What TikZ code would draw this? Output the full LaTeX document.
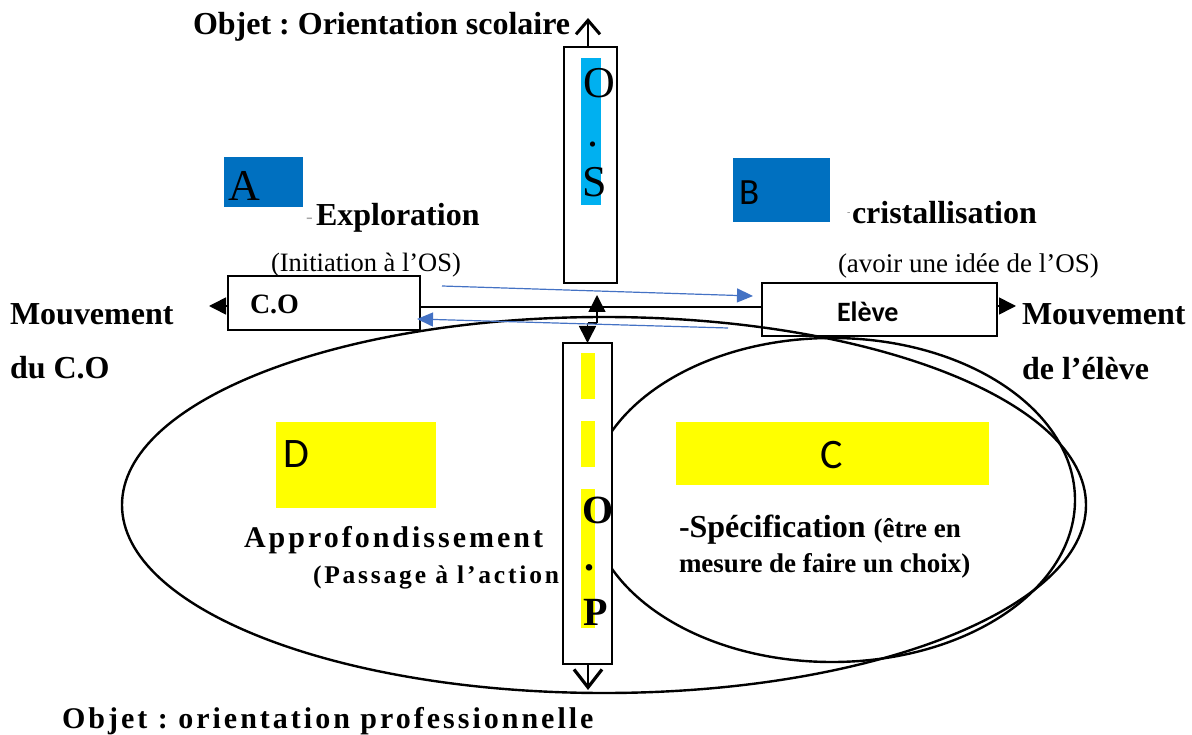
\documentclass[tikz,border=0pt]{standalone}
\usepackage{fontspec}
\setmainfont{Liberation Serif}
\newfontfamily\calibri{Carlito}
\newfontfamily\spacedserif[LetterSpace=10]{Liberation Serif}
\newfontfamily\spacedserifw[LetterSpace=11]{Liberation Serif}
\usetikzlibrary{arrows.meta,shapes.geometric}
\definecolor{darkblue}{HTML}{0070C0}
\definecolor{cyanblue}{HTML}{00B0F0}
\definecolor{arrowblue}{HTML}{4472C4}
\definecolor{yel}{HTML}{FFFF00}
\frenchspacing
\tikzset{
  fillbox/.style={inner sep=0pt, outer sep=0pt, draw=none},
  linebox/.style={inner sep=0pt, outer sep=0pt, draw=black, line width=1.7pt},
  ell/.style={ellipse, inner sep=0pt, outer sep=0pt, draw=black, line width=2.4pt},
  txt/.style={inner sep=0pt, outer sep=0pt, anchor=base west},
  ctxt/.style={inner sep=0pt, outer sep=0pt, anchor=base},
  bigb/.style={font=\bfseries\fontsize{32}{38}\selectfont},
  midb/.style={font=\bfseries\fontsize{27}{32}\selectfont},
  blk/.style={line width=1.6pt, -{Triangle[length=17pt,width=17pt]}},
  barbtop/.style={line width=2.6pt, -{Straight Barb[length=14pt,width=24pt,line width=3pt]}},
  barbbot/.style={line width=2.6pt, -{Straight Barb[length=18pt,width=28pt,line width=3.2pt]}},
  blu/.style={draw=arrowblue, line width=1.2pt, -{Triangle[length=16pt,width=14pt]}},
}
\begin{document}
\begin{tikzpicture}[x=1pt,y=-1pt]
\useasboundingbox (0,0) rectangle (1192,735);

% coloured label boxes
\node[fillbox, fill=darkblue, minimum width=79pt, minimum height=50pt] (boxA) at (263.5,182) {};
\node[fillbox, fill=darkblue, minimum width=97pt, minimum height=64pt] (boxB) at (781.5,190) {};
\node[fillbox, fill=yel, minimum width=160pt, minimum height=86pt] (boxD) at (356,465) {};
\node[fillbox, fill=yel, minimum width=313pt, minimum height=63pt] (boxC) at (832.5,453.5) {};

% ellipses
\node[ell, minimum width=964pt, minimum height=376pt] (bigell) at (604,505) {};
\node[ell, minimum width=486pt, minimum height=324pt] (smallell) at (832,500) {};

% vertical boxes
\node[linebox, fill=white, minimum width=53pt, minimum height=236pt] (os) at (590.5,165) {};
\node[fillbox, fill=cyanblue, minimum width=20pt, minimum height=147pt] (osstripe) at (591,131.5) {};
\node[linebox, fill=white, minimum width=49pt, minimum height=321pt] (op) at (587.5,503.5) {};
\node[fillbox, fill=yel, minimum width=14pt, minimum height=46pt] (ops1) at (588,376) {};
\node[fillbox, fill=yel, minimum width=14pt, minimum height=46pt] (ops2) at (588,444) {};
\node[fillbox, fill=yel, minimum width=14pt, minimum height=139pt] (ops3) at (588,558.5) {};

% horizontal boxes
\node[linebox, minimum width=192pt, minimum height=54pt] (co) at (324,303) {};
\node[linebox, minimum width=235pt, minimum height=53pt] (eleve) at (879.5,309.5) {};

% letters in vertical boxes
\node[ctxt, font=\fontsize{44}{50}\selectfont] (osO) at (599,98) {O};
\node[ctxt, font=\fontsize{44}{50}\selectfont] (osdot) at (593,147) {.};
\node[ctxt, font=\fontsize{44}{50}\selectfont] (osS) at (595,197) {S};
\node[ctxt, font=\bfseries\fontsize{40}{46}\selectfont] (opO) at (598,523) {O};
\node[ctxt, font=\bfseries\fontsize{40}{46}\selectfont] (opdot) at (589,570) {.};
\node[ctxt, font=\bfseries\fontsize{40}{46}\selectfont] (opP) at (596,625) {P};

% connectors
\coordinate (hl) at (0,307);
\draw[line width=1.5pt] (co.east |- hl) -- (eleve.west |- hl);
\coordinate (coleft) at (209,306);
\coordinate (elright) at (1016,306);
\draw[blk] (co.west |- coleft) -- (coleft);
\draw[blk] (eleve.east |- elright) -- (elright);
\coordinate (knee) at (597,323);
\coordinate (uptip) at (597,295);
\coordinate (knee2) at (587.5,323);
\draw[blk] (knee) -- (uptip);
\draw[line width=1.6pt] (knee) -- (knee2);
\draw[blk] (knee2) -- (op.north);
\coordinate (ostop) at (588,18);
\coordinate (opbot) at (588,690);
\draw[barbtop] (os.north -| ostop) -- (ostop);
\draw[barbbot] (op.south -| opbot) -- (opbot);
\coordinate (b1s) at (442,286);
\coordinate (b1e) at (753,296);
\coordinate (b2s) at (728,328);
\coordinate (b2e) at (417,319);
\draw[blu] (b1s) -- (b1e);
\draw[blu] (b2s) -- (b2e);

% box letters
\node[txt, font=\fontsize{44}{50}\selectfont] (lA) at (228,201) {A};
\node[txt, font=\calibri\fontsize{37}{42}\selectfont] (lB) at (739,205) {B};
\node[txt, font=\calibri\fontsize{42}{48}\selectfont] (lC) at (820,468) {C};
\node[txt, font=\calibri\fontsize{42}{48}\selectfont] (lD) at (283,467) {D};

% texts
\node[txt, bigb] (title) at (193,35) {Objet : Orientation scolaire};
\node[txt, text=black!35, font=\fontsize{20}{24}\selectfont] (dashA) at (306,224) {-};
\node[txt, bigb] (explo) at (316,226) {Exploration};
\node[txt, font=\fontsize{26.5}{32}\selectfont] (init) at (271,272) {(Initiation à l’OS)};
\node[txt, font=\bfseries\fontsize{28}{32}\selectfont] (cotxt) at (250,314) {C.O};
\node[txt, bigb] (mvl1) at (10,325) {Mouvement};
\node[txt, bigb] (mvl2) at (10,379) {du C.O};
\node[txt, text=black!50, font=\fontsize{10}{12}\selectfont] (dashB) at (847,216) {-};
\node[txt, bigb] (crist) at (852,224) {cristallisation};
\node[txt, font=\fontsize{27}{32}\selectfont] (avoir) at (838,273) {(avoir une idée de l’OS)};
\node[txt, font=\calibri\bfseries\fontsize{28}{32}\selectfont] (eltxt) at (837,322) {Elève};
\node[txt, bigb] (mvr1) at (1022,325) {Mouvement};
\node[txt, bigb] (mvr2) at (1022,380) {de l’élève};
\node[txt, font=\spacedserif\bfseries\fontsize{30}{34}\selectfont] (appro) at (244,547) {Approfondissement};
\node[txt, font=\spacedserifw\bfseries\fontsize{25.5}{30}\selectfont] (passage) at (313,583) {(Passage à l’action};
\node[txt, bigb] (spec) at (679,537) {-Spécification {\fontsize{27}{32}\selectfont (être en}};
\node[txt, midb] (mesure) at (679,572) {mesure de faire un choix)};
\node[txt, font=\spacedserif\bfseries\fontsize{30}{34}\selectfont] (objp) at (62,728) {Objet : orientation professionnelle};
\end{tikzpicture}
\end{document}
